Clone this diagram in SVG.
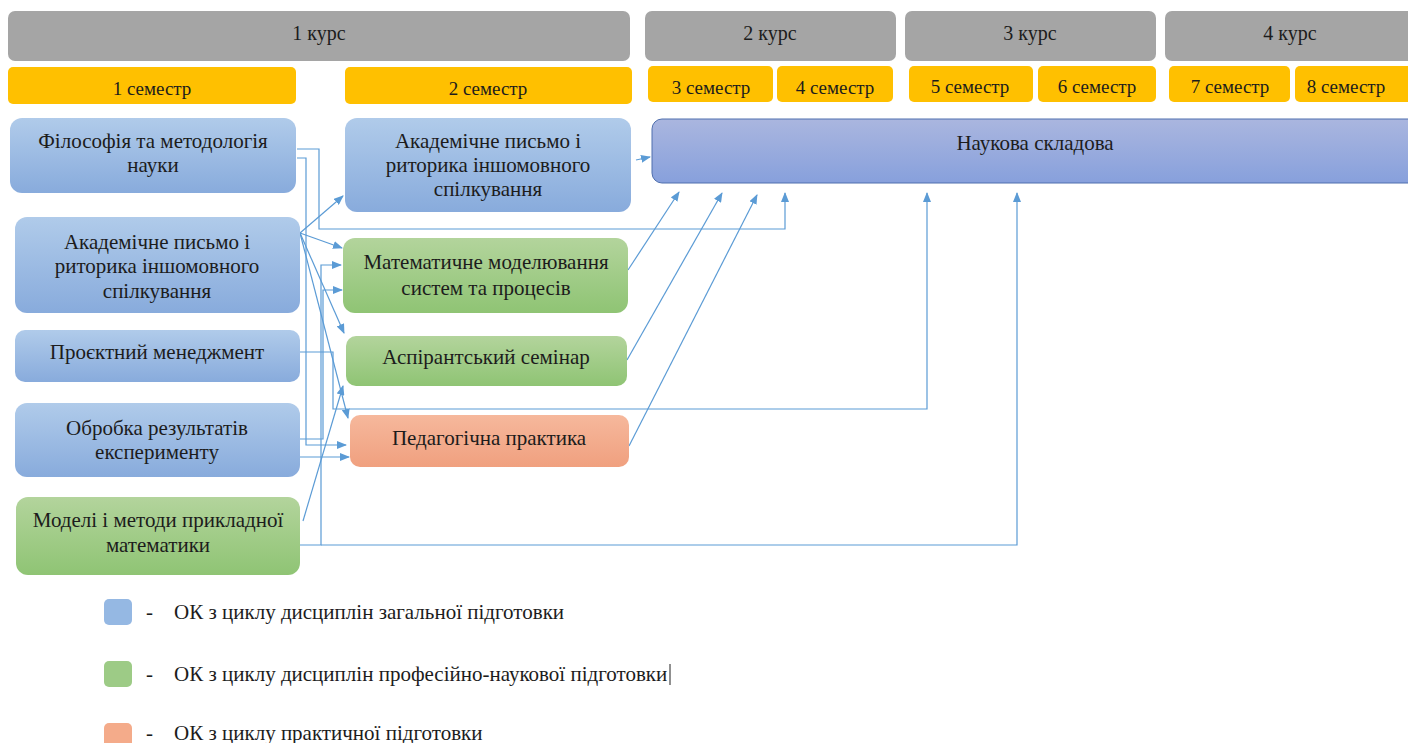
<svg xmlns="http://www.w3.org/2000/svg" width="1408" height="743" viewBox="0 0 1408 743">
<style>
text{font-family:'Liberation Serif',Tinos,'Times New Roman','DejaVu Serif',serif;fill:#1c1c1c;text-anchor:middle;dominant-baseline:central}
.h{font-size:20px}
.s{font-size:19px}
.n{font-size:21px}
.l{font-size:21px;text-anchor:start}
.kurs{fill:#a5a5a5}
.sem{fill:#ffc000}
.ca{fill:none;stroke:#5b9bd5;stroke-width:1.2;marker-end:url(#ah)}
</style>
<defs>
<linearGradient id="gb" x1="0" y1="0" x2="0" y2="1"><stop offset="0" stop-color="#b0cbea"/><stop offset="1" stop-color="#88abdc"/></linearGradient>
<linearGradient id="gg" x1="0" y1="0" x2="0" y2="1"><stop offset="0" stop-color="#b3d49c"/><stop offset="1" stop-color="#8fc474"/></linearGradient>
<linearGradient id="go" x1="0" y1="0" x2="0" y2="1"><stop offset="0" stop-color="#f6b89c"/><stop offset="1" stop-color="#f0a07f"/></linearGradient>
<linearGradient id="gn" x1="0" y1="0" x2="0" y2="1"><stop offset="0" stop-color="#aab6df"/><stop offset="1" stop-color="#87a0dc"/></linearGradient>
<marker id="ah" markerWidth="10" markerHeight="8" refX="9" refY="4" orient="auto" markerUnits="userSpaceOnUse"><path d="M0,0 L10,4 L0,8 Z" fill="#5b9bd5"/></marker>
</defs>

<g id="headers">
<rect class="kurs" x="8" y="11" width="622" height="50" rx="7"/><text class="h" x="319" y="33">1 курс</text>
<rect class="kurs" x="645" y="11" width="251" height="50" rx="7"/><text class="h" x="770" y="33">2 курс</text>
<rect class="kurs" x="905" y="11" width="251" height="50" rx="7"/><text class="h" x="1030" y="33">3 курс</text>
<rect class="kurs" x="1165" y="11" width="260" height="50" rx="7"/><text class="h" x="1290" y="33">4 курс</text>
<rect class="sem" x="8" y="67" width="288" height="37" rx="5"/><text class="s" x="152" y="88">1 семестр</text>
<rect class="sem" x="345" y="67" width="287" height="37" rx="5"/><text class="s" x="488" y="88">2 семестр</text>
<rect class="sem" x="648" y="66" width="125" height="36" rx="5"/><text class="s" x="711" y="87">3 семестр</text>
<rect class="sem" x="777" y="66" width="116" height="36" rx="5"/><text class="s" x="835" y="87">4 семестр</text>
<rect class="sem" x="909" y="66" width="124" height="36" rx="5"/><text class="s" x="970" y="86">5 семестр</text>
<rect class="sem" x="1038" y="66" width="118" height="36" rx="5"/><text class="s" x="1097" y="86">6 семестр</text>
<rect class="sem" x="1169" y="66" width="121" height="36" rx="5"/><text class="s" x="1230" y="86">7 семестр</text>
<rect class="sem" x="1295" y="66" width="125" height="36" rx="5"/><text class="s" x="1346" y="86">8 семестр</text>
</g>

<g id="connectors">
<path class="ca" d="M297,149 H319 V229 H785 V193"/>
<path class="ca" d="M297,158 H306 V445 H346"/>
<path class="ca" d="M300,233 L343,196"/>
<path class="ca" d="M300,233 L342,248"/>
<path class="ca" d="M300,233 L344,333"/>
<path class="ca" d="M300,233 L348,418"/>
<path class="ca" d="M300,352 H333 V409 H927 V193"/>
<path class="ca" d="M300,439 H323 V290 H342"/>
<path class="ca" d="M300,457 H349"/>
<path class="ca" d="M300,545 H321 V265 H341"/>
<path class="ca" d="M321,545 H1017 V193"/>
<path class="ca" d="M303,521 L343,386"/>
<path class="ca" d="M636,160 L650,157"/>
<path class="ca" d="M628,270 L679,192"/>
<path class="ca" d="M627,360 L722,193"/>
<path class="ca" d="M629,446 L757,195"/>
</g>

<g id="n-filosofia">
<rect x="10" y="118" width="286" height="75" rx="12" fill="url(#gb)"/>
<text class="n" x="153" y="141">Філософія та методологія</text>
<text class="n" x="153" y="165">науки</text>
</g>
<g id="n-akadem1">
<rect x="15" y="217" width="285" height="96" rx="12" fill="url(#gb)"/>
<text class="n" x="157" y="242">Академічне письмо і</text>
<text class="n" x="157" y="266">риторика іншомовного</text>
<text class="n" x="157" y="291">спілкування</text>
</g>
<g id="n-proekt">
<rect x="15" y="330" width="285" height="52" rx="10" fill="url(#gb)"/>
<text class="n" x="157" y="352">Проєктний менеджмент</text>
</g>
<g id="n-obrobka">
<rect x="15" y="403" width="285" height="74" rx="12" fill="url(#gb)"/>
<text class="n" x="157" y="428">Обробка результатів</text>
<text class="n" x="157" y="452">експерименту</text>
</g>
<g id="n-modeli">
<rect x="16" y="497" width="284" height="78" rx="12" fill="url(#gg)"/>
<text class="n" x="158" y="520">Моделі і методи прикладної</text>
<text class="n" x="158" y="545">математики</text>
</g>
<g id="n-akadem2">
<rect x="345" y="118" width="286" height="94" rx="12" fill="url(#gb)"/>
<text class="n" x="488" y="141">Академічне письмо і</text>
<text class="n" x="488" y="165">риторика іншомовного</text>
<text class="n" x="488" y="189">спілкування</text>
</g>
<g id="n-matmod">
<rect x="343" y="238" width="285" height="75" rx="12" fill="url(#gg)"/>
<text class="n" x="486" y="262">Математичне моделювання</text>
<text class="n" x="486" y="288">систем та процесів</text>
</g>
<g id="n-aspir">
<rect x="346" y="336" width="281" height="50" rx="10" fill="url(#gg)"/>
<text class="n" x="486" y="357">Аспірантський семінар</text>
</g>
<g id="n-pedag">
<rect x="350" y="415" width="279" height="52" rx="10" fill="url(#go)"/>
<text class="n" x="489" y="438">Педагогічна практика</text>
</g>
<g id="n-naukova">
<rect x="652" y="119" width="770" height="64" rx="10" fill="url(#gn)" stroke="#4f6fae" stroke-width="1"/>
<text class="n" x="1035" y="143">Наукова складова</text>
</g>

<g id="legend">
<rect x="104" y="599" width="28" height="26" rx="5" fill="#95b8e3"/>
<text class="l" x="146" y="612">-</text>
<text class="l" x="174" y="612">ОК з циклу дисциплін загальної підготовки</text>
<rect x="104" y="661" width="28" height="26" rx="5" fill="#9dcb86"/>
<text class="l" x="146" y="674">-</text>
<text class="l" x="174" y="674">ОК з циклу дисциплін професійно-наукової підготовки</text>
<line x1="670" y1="664" x2="670" y2="685" stroke="#222" stroke-width="1"/>
<rect x="104" y="723" width="28" height="26" rx="5" fill="#f4ab8a"/>
<text class="l" x="146" y="733">-</text>
<text class="l" x="174" y="733">ОК з циклу практичної підготовки</text>
</g>
</svg>
